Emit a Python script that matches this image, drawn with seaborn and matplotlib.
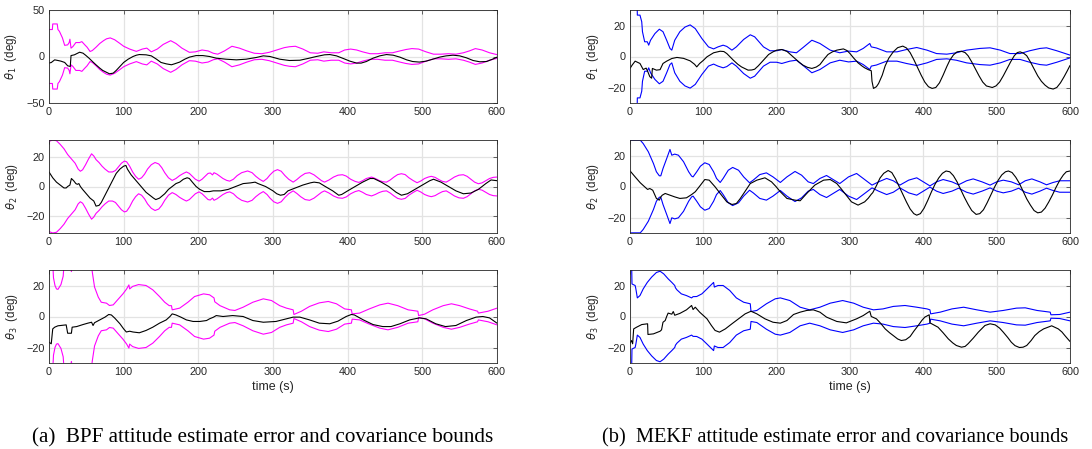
import numpy as np
import matplotlib
matplotlib.use("Agg")
import matplotlib.pyplot as plt
import seaborn as sns

# ---------------- data ----------------
# (a) BPF, theta_1
t_bnd_a1 = [0, 4.5, 5, 11, 12, 14, 18, 21, 25, 27, 28, 29.5, 32, 36, 41, 44, 48, 51, 55, 58,
            63, 68, 73, 77, 82, 88, 95, 100, 108, 117, 125, 131, 137, 145, 153, 163, 170, 178, 188, 196,
            205, 213, 220, 226, 235, 245, 255, 265, 275, 285, 295, 305, 315, 322, 330, 340, 350, 360, 368, 378,
            388, 396, 404, 412, 420, 430, 440, 450, 460, 470, 478, 486, 495, 505, 515, 525, 535, 545, 555, 563,
            571, 580, 590, 600]
bnd_a1 = [29, 29, 35, 35, 29, 27, 20, 12, 12.5, 15, 18.6, 9, 10.7, 15, 15, 16, 12.5, 10, 5.4, 6.4,
          10, 14, 17, 19, 20, 18, 14, 11, 8, 5.5, 8, 9, 5, 8, 13, 17, 14, 9, 4.5, 5,
          7, 6, 3.5, 2.5, 6, 11, 9, 6, 3.5, 3, 4.5, 7, 9.5, 10.5, 11, 8, 4, 3.5, 5, 4,
          4, 7, 8, 7, 5, 3, 3, 4, 4, 6, 7.5, 8.5, 8, 5, 2.5, 2.5, 3, 2.5, 4, 6,
          8.5, 7, 4, 2]
t_err_a1 = [0, 3, 7.6, 12, 16, 21, 25, 28.5, 29.5, 34, 41, 45.5, 49, 53.6, 59, 63, 68, 72, 77, 81,
            86, 90, 95, 100, 106, 112.5, 117, 121, 130, 137, 144, 150, 157, 164, 168, 175, 182, 188, 197, 206,
            215, 224, 237, 251, 264, 278, 287, 296, 309, 322, 336, 347, 358, 369, 376, 385, 394, 403, 412, 418,
            425, 434, 443, 452, 461, 470, 479, 487, 496, 505, 514, 523, 532, 541, 550, 559, 568, 577, 586, 594,
            600]
err_a1 = [-7, -6.5, -3.6, -4.3, -5, -6.4, -10, -10.7, 1, 1.8, 4.6, 3.6, 1.4, -1.8, -6, -9, -12.5, -15, -17, -18.6,
          -17.9, -15, -10.7, -6.4, -2.9, 0, 1.4, 2.1, 1.8, 0.7, -2.9, -6.4, -7.9, -8.9, -7.9, -6, -2.9, -0.7, 1, 1,
          0, -1.8, -2.9, -3.6, -2.9, -1, 0.7, 0, -2.9, -4.3, -4, -2.1, 0, 1.8, 2.1, 0.7, -2.1, -5, -7.1, -7.1,
          -5.4, -1.8, 0.7, 2.1, 1.4, -0.7, -3.6, -5.4, -6, -5, -2.9, -0.7, 0.7, 1.4, 0.7, -1.4, -4.3, -5.7, -5.4, -2.9,
          -0.7]

# (a) BPF, theta_2
t_bnd_a2 = [0, 5, 10, 15, 20, 25, 30, 35, 39, 42, 45, 49, 53, 57, 60, 63, 67, 71, 75, 80,
            85, 89, 93, 97, 101, 104, 108, 112, 116, 120, 124, 128, 132, 137, 142, 147, 151, 155, 160, 165,
            170, 175, 180, 184, 188, 192, 196, 201, 205, 209, 213, 216, 219, 221, 225, 229, 233, 238, 242, 247,
            252, 258, 266, 272, 277, 282, 287, 292, 296, 301, 306, 311, 316, 321, 327, 332, 337, 343, 349, 355,
            360, 365, 369, 375, 381, 387, 393, 398, 404, 410, 415, 420, 425, 432, 437, 442, 447, 452, 457, 462,
            467, 472, 477, 482, 488, 493, 498, 503, 508, 512, 517, 522, 527, 532, 537, 543, 549, 555, 560, 565,
            570, 575, 580, 585, 590, 595, 600]
bnd_a2 = [31, 32, 31.5, 29, 26, 22, 19, 16, 12, 10.5, 11.5, 15, 19, 22.5, 21, 18.5, 16.5, 14, 12, 10,
          10, 11, 13.5, 16, 17.5, 17, 14, 10, 7, 5, 6, 8.5, 12, 15, 16.5, 15.5, 13, 9.5, 6, 4.2,
          5.5, 7.5, 9, 10, 9, 7, 5, 3.7, 5, 7, 9, 9.3, 8, 9.5, 8.5, 7, 5.5, 4.2, 3.7, 5,
          7.5, 9.5, 10.7, 9.5, 7, 5, 3.5, 5.5, 8, 10.5, 11.6, 10.5, 7.5, 5, 3, 4.8, 7, 9, 9.5, 8,
          6, 4, 3, 4.5, 6.5, 7.8, 8.1, 7.2, 5, 3.5, 2.8, 4, 5.5, 6.5, 5.5, 4.2, 3.3, 3, 4.5, 6.5,
          8.2, 8.8, 8.2, 6, 4, 2.6, 3.8, 5.5, 6.5, 7, 6.3, 4.8, 3.5, 3, 4.5, 6.5, 7.8, 8.1, 7, 5,
          3, 1.9, 2.5, 4, 5.5, 6.3, 6.5]
t_err_a2 = [0, 5, 10, 15, 20, 23, 25, 28, 30, 33, 36, 38, 40, 42, 45, 50, 55, 60, 63, 67,
            70, 75, 80, 85, 90, 95, 100, 103, 105, 110, 115, 120, 125, 130, 135, 140, 143, 148, 155, 160,
            165, 170, 175, 180, 185, 188, 192, 197, 202, 208, 215, 220, 230, 240, 250, 260, 270, 276, 280, 290,
            300, 305, 310, 315, 320, 330, 340, 350, 355, 362, 370, 380, 388, 392, 400, 410, 420, 430, 435, 445,
            455, 465, 472, 480, 490, 500, 510, 515, 525, 535, 545, 555, 565, 575, 585, 592, 600]
err_a2 = [10, 6, 3, 1, -1, -1, 0, 1, 5.5, 4, 2, 1.5, 2, 0, -2, -5, -8, -10, -13.5, -13,
          -11, -6, -1, 4, 9, 12, 14, 14.5, 12, 8, 5, 2, -1, -4, -6, -8, -9, -8, -5, -2,
          0, 2, 3, 5, 6, 5.5, 3, 0, -2, -3.5, -3.5, -3, -3, -2, 0, 2, 2.5, 3, 2, 0,
          -3, -5, -6, -5.5, -3, -1, 1, 2.5, 3, 2.5, 0, -3, -6, -5.5, -3, 0, 3, 5.5, 5.5, 3,
          0, -4, -6, -5, -2, 1, 4, 5, 3, 0, -3, -5, -4.5, -2, 2, 4.5, 4]

# (a) BPF, theta_3
t_bnd_a3 = [0, 4.5, 6, 8, 10, 12, 16, 19, 21, 25, 28, 30, 33, 55, 58, 61, 66, 70, 77, 81,
            86, 92, 99, 104, 107, 108, 112, 120, 130, 139, 148, 155, 161, 164, 165, 175, 186, 195, 207, 215,
            221, 222, 229, 242, 249, 260, 273, 287, 298, 309, 318, 327, 328, 338, 349, 362, 374, 385, 396, 405,
            406, 416, 429, 443, 454, 467, 481, 494, 495, 503, 514, 528, 539, 550, 563, 574, 575, 588, 600]
bnd_a3 = [40, 40, 25, 20, 17.8, 17.5, 20.6, 26, 40, 40, 35, 29, 40, 40, 28.6, 19, 12.5, 9.2, 8.6, 7.1,
          7.5, 10.8, 14.6, 17.8, 20.4, 17.8, 19.4, 20.6, 20, 17.2, 12.9, 9.2, 7, 7, 4.3, 5.4, 9.2, 12.9, 14.6, 14,
          12, 9.5, 7, 4.3, 3.9, 6, 9.2, 11.4, 10.3, 7, 5.4, 4.3, 1.3, 3.4, 6.5, 8.8, 9.7, 8.2, 4.9, 4.3,
          1.7, 2.2, 4.9, 7.5, 8.6, 7, 4.3, 3.4, 0.6, 1.5, 4.3, 7, 8.2, 7, 4.9, 3.4, 2.2, 3.4, 5.4]
t_err_a3 = [0, 3, 5, 7.6, 12, 23, 25, 30, 31, 37, 45.5, 52, 57, 59, 61, 68, 75, 80, 83.5, 88,
            95, 100, 103.6, 108, 112.5, 121, 130, 139, 148, 157, 162, 165, 170, 177, 184, 193, 202, 211, 215, 220,
            224, 233, 246, 260, 273, 287, 304, 318, 327, 336, 349, 362, 376, 387, 398, 405, 409, 421, 434, 447,
            458, 470, 483, 496, 505, 518, 531, 545, 559, 572, 581, 590, 600]
err_a3 = [-16.6, -17.6, -8, -6.9, -6, -5.4, -10.8, -10.8, -6.9, -6.5, -5.2, -4.3, -3.7, -5.8, -4, -2.2, -0.4, 1.3, 1, -1,
          -4.7, -8, -10, -9.5, -10, -10.5, -9, -6.9, -4.3, -2.2, 0, 1.7, 1, -0.5, -2.2, -3.2, -3.2, -2.6, -1.5, -0.5,
          0.6, 0, 0.6, 0, -2.6, -3.7, -3.2, -1.5, -0.4, -0.4, -2.2, -4.3, -4.7, -3, 0, 1.3, 1, -2.2, -5.2, -6.5,
          -6.5, -4.7, -2.2, -0.9, -1.5, -4.7, -6.5, -5.8, -2.6, -0.4, 0, -0.9, -4.3]

# (b) MEKF, theta_1
t_bnd_b1 = [0, 9.5, 10, 13.6, 16, 17, 20, 23.6, 25.5, 28, 34, 40, 45, 50, 54.5, 57, 61, 68, 75, 82,
            89, 98, 107, 114, 120, 127, 132, 139, 145, 155, 164, 170, 182, 191, 200, 207, 218, 227, 236, 248,
            259, 273, 286, 298, 309, 318, 327, 329, 336, 350, 364, 377, 391, 405, 418, 432, 445, 459, 477, 491,
            505, 518, 532, 545, 559, 568, 582, 600]
bnd_b1 = [40, 40, 26.7, 26.7, 22.4, 16, 9.5, 9.5, 7.3, 10.5, 14.8, 17.6, 16, 10.5, 5.2, 4.1, 10.5, 16, 19, 20.4,
          18, 11.6, 6.2, 4.9, 6.2, 7.3, 6.5, 4.1, 6.2, 11, 14, 12.7, 6.2, 3.7, 3.7, 4.5, 3, 2.4, 5.8, 10.5,
          8.4, 4.1, 2.4, 3.5, 3, 5.2, 8.4, 6.2, 5.5, 3, 3, 4.5, 5.8, 4.1, 1.9, 1.5, 2.4, 4.1, 5.2, 5.6,
          4.1, 1.9, 1.9, 3.7, 5.2, 5.6, 3.7, 0.9]
t_err_b1 = [0, 3, 7, 13.6, 18, 22, 23.6, 27, 29.5, 30.5, 36, 41, 45, 50, 57, 64, 73, 82, 88, 91,
            95, 100, 105, 114, 123, 128, 132, 136, 141, 147, 152, 161, 166, 170, 175, 180, 185, 189, 195, 200,
            207, 214, 220, 225, 231, 236, 242, 248, 254, 259, 265, 270, 276, 282, 291, 296, 300, 305, 311, 316,
            320, 325, 329, 330, 332, 336, 339, 344, 348, 353, 359, 365, 372, 377, 382, 387, 392, 397, 402, 407,
            412, 417, 422, 427, 432, 436, 441, 446, 452, 457, 461, 466, 471, 476, 481, 486, 494, 499, 504, 509,
            514, 519, 524, 528, 532, 537, 541, 546, 551, 556, 561, 566, 571, 577, 582, 587, 592, 596, 600]
err_b1 = [-7.7, -5.5, -3, -4.5, -8.4, -7.5, -9, -13, -14, -7.7, -8.8, -8.5, -4.5, -3, -1.3, -0.6, -1.2, -2.8, -5, -6.7,
          -4.5, -2.5, -0.2, 2.4, 3.4, 3.2, 1.9, 0, -2.4, -5, -6.7, -8.8, -8.7, -8.2, -6, -3.4, -0.8, 1.3, 3, 4.1,
          4.5, 3.3, 0.8, -1.3, -3.8, -5.6, -7, -7.7, -6.8, -5.2, -1.5, 1.3, 3, 4.1, 4.9, 3.8, 1.9, -1, -4.1, -6,
          -7.3, -8.5, -9.2, -16, -20.6, -19.5, -17.4, -12, -6, -1, 3, 5.7, 6.7, 5.5, 2.5, -2, -7, -12, -16.5, -19.5,
          -20.6, -20, -17, -12, -6.5, -2.5, 1, 3, 3.4, 2.5, 0.5, -3.5, -8, -12.5, -16.5, -19, -20, -19, -16.5, -12.5,
          -8, -3.5, 0.5, 2.5, 3, 2, 0.5, -3.5, -8, -12.5, -16, -18.5, -20.3, -21, -20, -17, -13, -9.5, -5.8]

# (b) MEKF, theta_2
t_bnd_b2 = [0, 14, 18, 25, 32, 36, 40, 42, 45, 50, 54.5, 57, 61, 66, 73, 80, 84, 86, 91, 96,
            102, 108, 114, 118, 123, 127, 134, 140, 148, 155, 163, 168, 177, 186, 195, 205, 214, 225, 234, 243,
            250, 259, 268, 277, 286, 298, 309, 318, 330, 339, 350, 359, 368, 380, 391, 400, 409, 418, 427, 439,
            448, 459, 468, 480, 491, 500, 509, 520, 530, 539, 548, 559, 568, 577, 586, 600]
bnd_b2 = [29.9, 29.9, 27.7, 22.4, 14.8, 9.5, 6.9, 6.9, 11.6, 18, 23.9, 20.2, 20.9, 20.2, 16, 9.5, 6.7, 6.2, 9.5, 13.1,
          15.3, 14.2, 9.5, 5.2, 2.6, 5.2, 10.5, 12.3, 10.5, 6.2, 2.4, 4.1, 7.7, 8.8, 6.2, 2.6, 6.2, 9.7, 7.3, 3,
          1.9, 5.2, 7.1, 4.5, 1.9, 6.2, 8.4, 5.2, 0.9, 3, 5.2, 3.7, 0.9, 4.1, 5.6, 3, 0.4, 3, 4.5, 3,
          1.1, 3.7, 4.9, 3, 0.9, 3, 4.1, 3, 1.1, 3.7, 4.9, 3, 1.1, 2.6, 3.7, 3.7]
t_err_b2 = [0, 7, 14, 20, 24, 27, 31, 36, 40, 42, 44, 48, 54.5, 61, 68, 77, 84, 89, 95, 102,
            108, 116, 123, 132, 139, 145, 150, 155, 164, 173, 184, 193, 199, 205, 214, 225, 232, 241, 252, 264,
            273, 282, 288, 293, 302, 311, 320, 325, 329, 331, 336, 341, 346, 352, 357, 362, 367, 372, 377, 382,
            387, 391, 396, 401, 406, 411, 416, 421, 426, 431, 436, 441, 446, 451, 456, 461, 466, 472, 477, 482,
            487, 492, 497, 502, 507, 512, 516, 521, 526, 531, 536, 541, 546, 551, 556, 561, 566, 571, 576, 581,
            586, 591, 595, 600]
err_b2 = [10.1, 6.2, 2.4, -0.2, -1.9, -1.3, -2.4, -7.7, -8.8, -6.7, -5.6, -4.5, -5.6, -6.7, -7.7, -7.3, -5.2, -3.4, 0.2, 4.5,
          4.1, -0.2, -4.5, -9.9, -11.6, -11, -8, -4.5, 1.9, 4.1, 5.6, 3, 0, -3.4, -7.7, -8.8, -9.2, -4.5, 0.9, 4.1,
          4.5, 1.9, -1.5, -4.5, -9.9, -12, -9.9, -7.5, -5, -4, 0.5, 5.5, 8.5, 10.3, 9, 5, 0, -5, -10, -14.5,
          -17.5, -18.5, -17.5, -14, -9, -3.5, 1.5, 5.5, 8.5, 10, 9.5, 7, 3, -2, -7, -11.5, -15.5, -18, -17.5, -15,
          -10.5, -5.5, -0.5, 4, 7.5, 9.5, 10, 9, 6, 2, -3, -8, -12, -15.5, -17, -16.5, -14, -10, -5.5, -0.5,
          4, 7.5, 9.5, 10]

# (b) MEKF, theta_3
t_bnd_b3 = [0, 2, 2.7, 7, 8, 10, 13.6, 18, 23.6, 29.5, 36, 41, 46, 52, 57, 61, 62, 64, 70, 77,
            84, 86, 91, 98, 105, 114, 115, 120, 127, 136, 145, 155, 164, 165, 173, 186, 198, 205, 218, 232,
            245, 259, 273, 290, 305, 318, 332, 345, 359, 375, 391, 405, 409, 410, 423, 439, 455, 473, 491, 509,
            527, 539, 555, 573, 574, 586, 600]
bnd_b3 = [40, 40, 21, 20, 17.8, 12, 13.5, 17.8, 22, 25.4, 28.4, 29.2, 27.5, 24.3, 22, 20, 18.5, 17.2, 14.6, 13.5,
          12, 12.8, 12.9, 14.6, 17.8, 22, 19, 20, 20, 16.8, 12, 9.2, 8.2, 3.2, 3.9, 8.2, 11.4, 12, 10.3, 6,
          4.3, 6, 8.6, 10.3, 8.6, 6, 4.3, 4.9, 6.5, 7.1, 6, 4.9, 4.3, 1.7, 2.8, 4.9, 6, 4.3, 2.8, 3.9,
          5.4, 5.6, 3.9, 2.8, 1.1, 1.3, 2.8]
t_err_b3 = [0, 2, 3.6, 5, 9, 16, 24, 24.5, 32, 41, 43, 45, 48, 50, 52, 57, 59, 61, 68, 77,
            84, 86, 89, 95, 105, 111, 116, 122, 130, 139, 148, 157, 165, 173, 184, 195, 205, 214, 223, 232,
            241, 250, 259, 268, 282, 295, 309, 318, 327, 329, 336, 342, 348, 354, 359, 365, 370, 376, 382, 387,
            393, 398, 402, 408, 409, 420, 427, 434, 440, 445, 452, 457, 461, 468, 475, 484, 491, 498, 504, 509,
            515, 520, 525, 531, 536, 541, 547, 552, 558, 564, 575, 584, 589, 593, 597, 600]
err_b3 = [-17.2, -15.5, -17.6, -8, -6.9, -5.2, -4.7, -11.6, -11.2, -9.5, -8.6, -3.7, -2.6, 0, 2.2, 1.5, 3.2, 0.8, 2, 4.3,
          7.1, 4.5, 6, 2.8, -1.5, -5.8, -9, -10.1, -8, -4.7, -1.5, 1.7, 3.4, 1.7, -1.5, -3.7, -4.3, -2.6, 1.3, 2.8,
          3.9, 4.3, 2.8, -0.4, -3.2, -4.1, -1.5, 0.6, 3.4, 0, -1.5, -4.5, -8, -10.5, -12.3, -14.5, -15.5, -15, -12.9, -9.5,
          -5.8, -2.5, -0.4, 1.1, -4.1, -6.9, -10.5, -14.4, -17, -18.7, -19.8, -19.3, -17.6, -14, -10.1, -5.8, -4.7, -5.4, -7.5, -10.1,
          -13.5, -16.6, -18.8, -20, -19.8, -18.7, -15.5, -12.3, -9.8, -8, -6, -8, -10, -12.3, -14.5, -16.1]

x_ticks = [0, 100, 200, 300, 400, 500, 600]
y_labels = [r"$\theta_1$  (deg)", r"$\theta_2$  (deg)", r"$\theta_3$  (deg)"]
captions = ["(a)  BPF attitude estimate error and covariance bounds",
            "(b)  MEKF attitude estimate error and covariance bounds"]

# ---------------- style ----------------
sns.set_style("white")
plt.rcParams["font.family"] = ["Liberation Sans", "DejaVu Sans"]
plt.rcParams["mathtext.fontset"] = "dejavusans"

W, H = 1092, 449
fig = plt.figure(figsize=(W / 100, H / 100), dpi=100)

col_x = [(49, 448), (630, 440)]
row_y = [(10, 93), (140, 93), (270, 93)]

panels = [
    [(t_err_a1, err_a1, t_bnd_a1, bnd_a1, (-50, 50), [-50, 0, 50]),
     (t_err_a2, err_a2, t_bnd_a2, bnd_a2, (-32, 32), [-20, 0, 20]),
     (t_err_a3, err_a3, t_bnd_a3, bnd_a3, (-30, 30), [-20, 0, 20])],
    [(t_err_b1, err_b1, t_bnd_b1, bnd_b1, (-30, 30), [-20, 0, 20]),
     (t_err_b2, err_b2, t_bnd_b2, bnd_b2, (-30, 30), [-20, 0, 20]),
     (t_err_b3, err_b3, t_bnd_b3, bnd_b3, (-30, 30), [-20, 0, 20])],
]
bound_colors = ["#ff00ff", "#0000ff"]
axis_gray = "#262626"

for c, (x0, w) in enumerate(col_x):
    for r, (y0, h) in enumerate(row_y):
        t_e, e, t_b, b, ylim, yt = panels[c][r]
        ax = fig.add_axes([x0 / W, 1 - (y0 + h) / H, w / W, h / H])
        b_arr = np.asarray(b, dtype=float)
        sns.lineplot(x=t_b, y=b_arr, ax=ax, color=bound_colors[c], linewidth=0.8,
                     estimator=None, sort=False)
        sns.lineplot(x=t_b, y=-b_arr, ax=ax, color=bound_colors[c], linewidth=0.8,
                     estimator=None, sort=False)
        sns.lineplot(x=t_e, y=e, ax=ax, color="black", linewidth=0.8,
                     estimator=None, sort=False)
        ax.set_xlim(0, 600)
        ax.set_ylim(*ylim)
        ax.set_xticks(x_ticks)
        ax.set_yticks(yt)
        ax.grid(True, color="#e3e3e3", linewidth=0.9)
        ax.set_axisbelow(True)
        for s in ax.spines.values():
            s.set_color(axis_gray)
            s.set_linewidth(0.6)
        ax.tick_params(axis="both", direction="in", length=3, width=0.5, colors=axis_gray,
                       labelsize=7.8, labelcolor=axis_gray, pad=3,
                       top=True, right=True)
        ax.set_ylabel(y_labels[r], fontsize=8.3, color=axis_gray, labelpad=5)
        if r == 2:
            ax.set_xlabel("time (s)", fontsize=9, color=axis_gray, labelpad=3)
        else:
            ax.set_xlabel("")

caption_x = [263, 835.5]
caption_size = [15.2, 14.65]
for c in range(2):
    fig.text(caption_x[c] / W, 1 - 442 / H, captions[c], ha="center", va="baseline",
             fontsize=caption_size[c], family=["Liberation Serif", "DejaVu Serif"], color="black")

fig.savefig("out.png", dpi=100)
